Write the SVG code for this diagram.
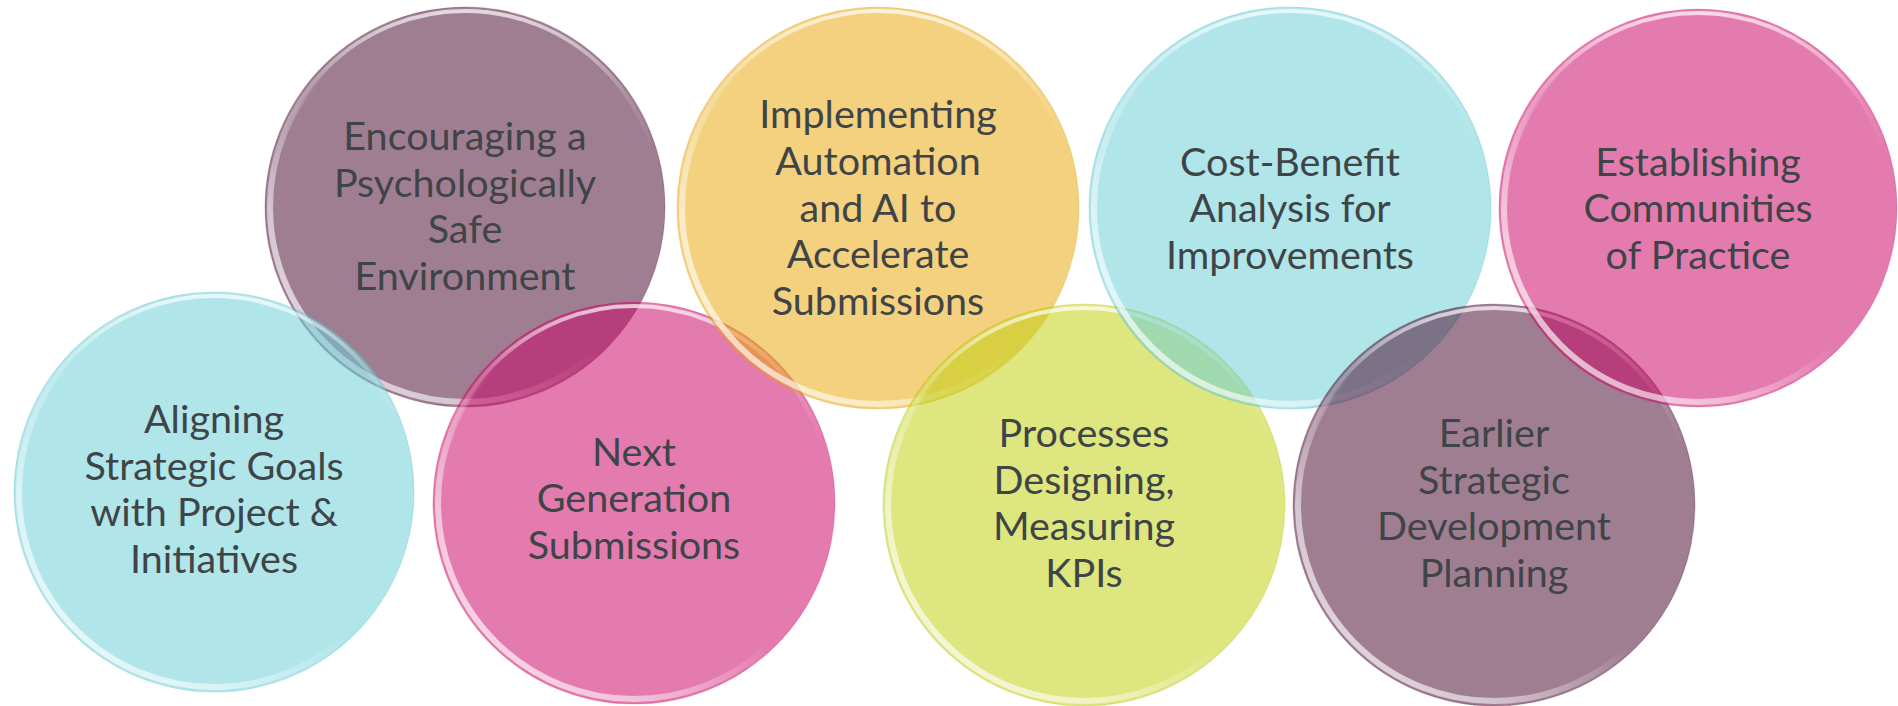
<svg xmlns="http://www.w3.org/2000/svg" width="1898" height="706" viewBox="0 0 1898 706">
<defs>
<style>
.txt{font-family:Lato,"Open Sans","Liberation Sans",sans-serif;font-size:39.5px;fill:#3f4447;text-anchor:middle}
.c{fill-opacity:0.53;stroke-opacity:0.2;stroke-width:1.2}
.rimA{fill:none;stroke:url(#rimLow);stroke-width:6}
.rimB{fill:none;stroke:url(#rimTop);stroke-width:4}
.purple{fill:#4c0c31;stroke:#4c0c31}
.pink{fill:#cc0668;stroke:#cc0668}
.cyan{fill:#6acdd7;stroke:#3cb0c0}
.yellow{fill:#e8a80c;stroke:#d8980c}
.green{fill:#c0d00d;stroke:#a8b80d}
</style>
<linearGradient id="rimLow" x1="0" y1="1" x2="0.7" y2="0.3">
<stop offset="0" stop-color="#fff" stop-opacity="0.8"/>
<stop offset="0.35" stop-color="#fff" stop-opacity="0.55"/>
<stop offset="0.7" stop-color="#fff" stop-opacity="0"/>
</linearGradient>
<linearGradient id="rimTop" x1="0.5" y1="0" x2="0.5" y2="0.35">
<stop offset="0" stop-color="#fff" stop-opacity="0.7"/>
<stop offset="0.6" stop-color="#fff" stop-opacity="0.15"/>
<stop offset="1" stop-color="#fff" stop-opacity="0"/>
</linearGradient>
</defs>
<rect width="1898" height="706" fill="#ffffff"/>

<g id="connectors"></g>

<g id="encouraging">
<circle class="c purple" cx="465" cy="207" r="200"/>
<circle class="rimA" cx="465" cy="207" r="195"/>
<circle class="rimB" cx="465" cy="207" r="196"/>
<text class="txt" x="465" y="150">Encouraging a</text>
<text class="txt" x="465" y="197">Psychologically</text>
<text class="txt" x="465" y="243">Safe</text>
<text class="txt" x="465" y="290">Environment</text>
</g>

<g id="aligning">
<circle class="c cyan" cx="214" cy="492" r="200"/>
<circle class="rimA" cx="214" cy="492" r="195"/>
<circle class="rimB" cx="214" cy="492" r="196"/>
<text class="txt" x="214" y="433">Aligning</text>
<text class="txt" x="214" y="480">Strategic Goals</text>
<text class="txt" x="214" y="526">with Project &amp;</text>
<text class="txt" x="214" y="573">Initiatives</text>
</g>

<g id="next-generation">
<circle class="c pink" cx="634" cy="503" r="201"/>
<circle class="rimA" cx="634" cy="503" r="196"/>
<circle class="rimB" cx="634" cy="503" r="197"/>
<text class="txt" x="634" y="466">Next</text>
<text class="txt" x="634" y="512">Generation</text>
<text class="txt" x="634" y="559">Submissions</text>
</g>

<g id="implementing">
<circle class="c yellow" cx="878" cy="208" r="201"/>
<circle class="rimA" cx="878" cy="208" r="196"/>
<circle class="rimB" cx="878" cy="208" r="197"/>
<text class="txt" x="878" y="128">Implementing</text>
<text class="txt" x="878" y="175">Automation</text>
<text class="txt" x="878" y="222">and AI to</text>
<text class="txt" x="878" y="268">Accelerate</text>
<text class="txt" x="878" y="315">Submissions</text>
</g>

<g id="processes">
<circle class="c green" cx="1084" cy="505" r="201"/>
<circle class="rimA" cx="1084" cy="505" r="196"/>
<circle class="rimB" cx="1084" cy="505" r="197"/>
<text class="txt" x="1084" y="447">Processes</text>
<text class="txt" x="1084" y="494">Designing,</text>
<text class="txt" x="1084" y="540">Measuring</text>
<text class="txt" x="1084" y="587">KPIs</text>
</g>

<g id="cost-benefit">
<circle class="c cyan" cx="1290" cy="208" r="201"/>
<circle class="rimA" cx="1290" cy="208" r="196"/>
<circle class="rimB" cx="1290" cy="208" r="197"/>
<text class="txt" x="1290" y="176">Cost-Benefit</text>
<text class="txt" x="1290" y="222">Analysis for</text>
<text class="txt" x="1290" y="269">Improvements</text>
</g>

<g id="earlier">
<circle class="c purple" cx="1494" cy="505" r="201"/>
<circle class="rimA" cx="1494" cy="505" r="196"/>
<circle class="rimB" cx="1494" cy="505" r="197"/>
<text class="txt" x="1494" y="447">Earlier</text>
<text class="txt" x="1494" y="494">Strategic</text>
<text class="txt" x="1494" y="540">Development</text>
<text class="txt" x="1494" y="587">Planning</text>
</g>

<g id="establishing">
<circle class="c pink" cx="1698" cy="208" r="199"/>
<circle class="rimA" cx="1698" cy="208" r="194"/>
<circle class="rimB" cx="1698" cy="208" r="195"/>
<text class="txt" x="1698" y="176">Establishing</text>
<text class="txt" x="1698" y="222">Communities</text>
<text class="txt" x="1698" y="269">of Practice</text>
</g>
</svg>
